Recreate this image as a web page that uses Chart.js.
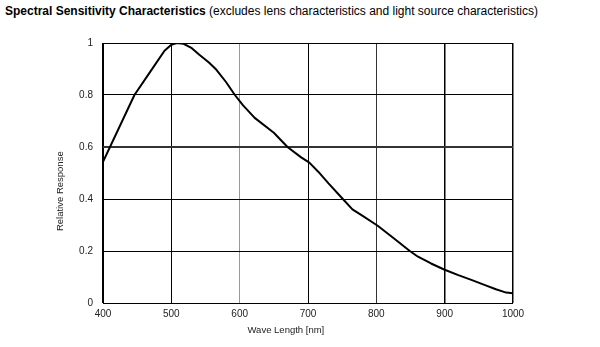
<!DOCTYPE html>
<html>
<head>
<meta charset="utf-8">
<script src="https://cdn.jsdelivr.net/npm/chart.js@4.4.1/dist/chart.umd.min.js"></script>
<style>
  body { margin: 0; background: #fff; }
  #wrap { position: relative; width: 600px; height: 347px; }
  #title {
    position: absolute; left: 5px; top: 4px;
    font-family: "Liberation Sans", Arial, sans-serif; font-size: 12px;
    color: #000; white-space: nowrap;
  }
  #title b { font-weight: bold; }
  canvas { position: absolute; left: 0; top: 0; }
</style>
</head>
<body>
<div id="wrap">
  <div id="title"><b>Spectral Sensitivity Characteristics</b> (excludes lens characteristics and light source characteristics)</div>
  <canvas id="myChart" width="600" height="347"></canvas>
</div>
<script>
// wavelength in nm and relative response
var waveLength = [400, 446, 470, 490, 500, 508, 518, 530, 541, 555, 566, 580, 593, 605, 622, 650, 670, 690, 702, 715, 730, 751, 765, 780, 802, 825, 849, 861, 880, 900, 920, 940, 960, 975, 990, 1000];
var response   = [0.543, 0.80, 0.893, 0.97, 0.993, 1.0, 0.997, 0.98, 0.955, 0.925, 0.897, 0.85, 0.80, 0.76, 0.712, 0.655, 0.60, 0.56, 0.54, 0.505, 0.46, 0.40, 0.36, 0.335, 0.297, 0.25, 0.20, 0.178, 0.152, 0.128, 0.107, 0.088, 0.068, 0.053, 0.04, 0.037];

var xTicks = [400, 500, 600, 700, 800, 900, 1000];
var yTicks = [0, 0.2, 0.4, 0.6, 0.8, 1];
var xTitle = 'Wave Length [nm]';
var yTitle = 'Relative Response';

var points = waveLength.map(function(w, i) { return { x: w, y: response[i] }; });

// grid line looks per value
function vLineColor(v) {
    if (v == 600) return '#999';
    if (v == 800) return '#333';
    return '#000';
}
function vLineWidth(v) {
    if (v == 400) return 2;
    if (v == 900 || v == 1000) return 1.5;
    return 1;
}
function hLineColor(v) {
    return Math.abs(v - 0.6) < 0.001 ? '#333' : '#000';
}
function hLineWidth(v) {
    return Math.abs(v - 0.6) < 0.001 ? 2 : 1;
}

var axisTitles = {
    id: 'axisTitles',
    afterDraw: function(chart) {
        var ctx = chart.ctx;
        var a = chart.chartArea;
        ctx.save();
        ctx.fillStyle = '#222';
        ctx.font = '9.5px "Liberation Sans", Arial, sans-serif';
        ctx.textAlign = 'center';
        ctx.textBaseline = 'middle';
        ctx.fillText(xTitle, a.left + a.width * 0.446, a.bottom + 27);
        ctx.translate(a.left - 43, a.top + a.height * 0.57);
        ctx.rotate(-Math.PI / 2);
        ctx.fillText(yTitle, 0, 0);
        ctx.restore();
    }
};

var ctx = document.getElementById('myChart').getContext('2d');
var myChart = new Chart(ctx, {
    type: 'line',
    data: {
        datasets: [{
            data: points,
            borderColor: '#000',
            borderWidth: 2,
            pointRadius: 0,
            fill: false,
            tension: 0,
            borderJoinStyle: 'round'
        }]
    },
    options: {
        responsive: false,
        animation: false,
        layout: { padding: { left: 0, right: 87, top: 43, bottom: 0 } },
        plugins: {
            legend: { display: false },
            tooltip: { enabled: false }
        },
        scales: {
            x: {
                type: 'linear',
                min: 400,
                max: 1000,
                afterBuildTicks: function(axis) {
                    axis.ticks = xTicks.map(function(v) { return { value: v }; });
                },
                afterFit: function(axis) { axis.height = 44; },
                grid: {
                    drawTicks: false,
                    color: function(c) { return vLineColor(c.tick.value); },
                    lineWidth: function(c) { return vLineWidth(c.tick.value); }
                },
                border: { display: false },
                ticks: {
                    color: '#222',
                    padding: 5,
                    font: { family: '"Liberation Sans", Arial, sans-serif', size: 10 },
                    callback: function(value) { return String(value); }
                }
            },
            y: {
                min: 0,
                max: 1,
                afterBuildTicks: function(axis) {
                    axis.ticks = yTicks.map(function(v) { return { value: v }; });
                },
                afterFit: function(axis) { axis.width = 103; },
                grid: {
                    drawTicks: false,
                    color: function(c) { return hLineColor(c.tick.value); },
                    lineWidth: function(c) { return hLineWidth(c.tick.value); }
                },
                border: { display: false },
                ticks: {
                    color: '#222',
                    padding: 10,
                    font: { family: '"Liberation Sans", Arial, sans-serif', size: 10 },
                    callback: function(value) { return String(value); }
                }
            }
        }
    },
    plugins: [axisTitles]
});
</script>
</body>
</html>
